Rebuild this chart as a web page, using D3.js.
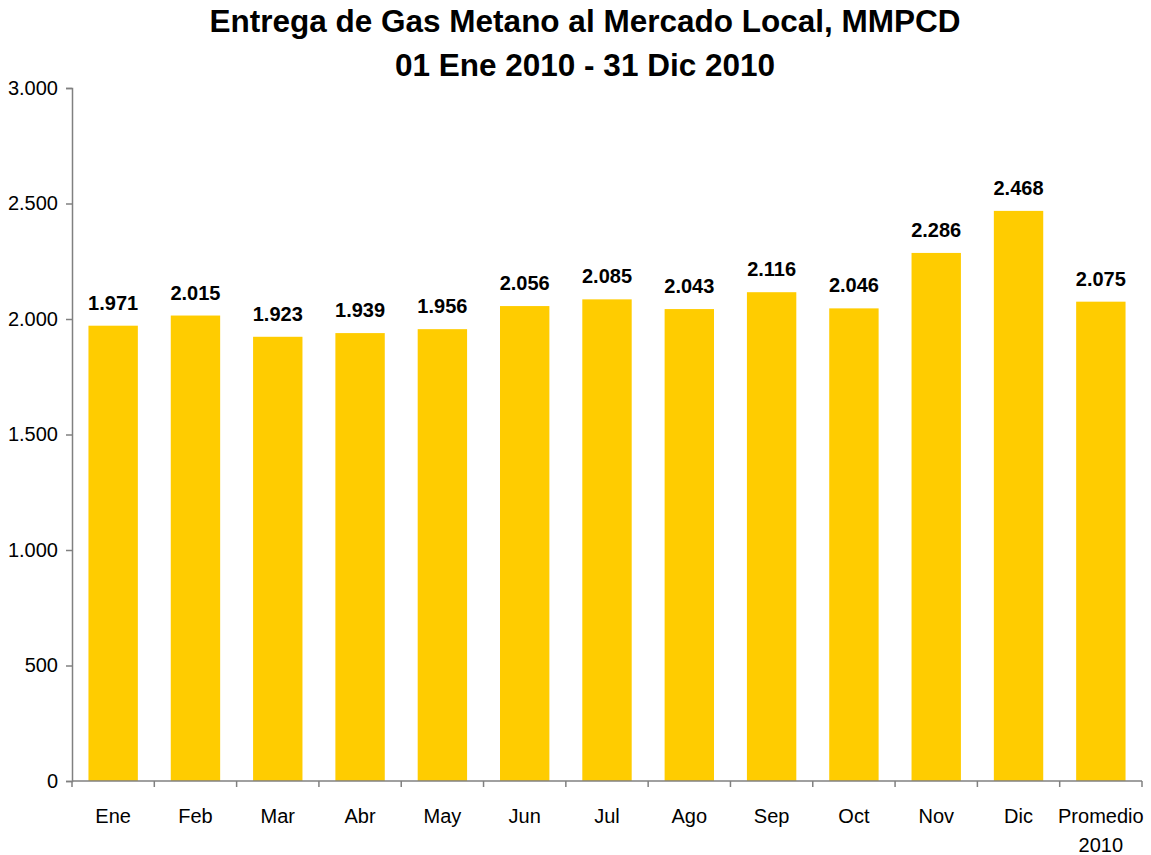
<!DOCTYPE html>
<html lang="es">
<head>
  <meta charset="utf-8">
  <title>Entrega de Gas Metano al Mercado Local</title>
  <script src="https://d3js.org/d3.v7.min.js"></script>
  <style>
    body { margin: 0; background: #fff; }
    svg text { font-family: "Liberation Sans", Arial, sans-serif; fill: #000; }
  </style>
</head>
<body>
<script>
// data
var meses = ['Ene', 'Feb', 'Mar', 'Abr', 'May', 'Jun', 'Jul', 'Ago', 'Sep', 'Oct', 'Nov', 'Dic', 'Promedio\n2010'];
var entrega = [1971, 2015, 1923, 1939, 1956, 2056, 2085, 2043, 2116, 2046, 2286, 2468, 2075];
var yTicks = [0, 500, 1000, 1500, 2000, 2500, 3000];
var titulo = ['Entrega de Gas Metano al Mercado Local, MMPCD', '01 Ene 2010 - 31 Dic 2010'];

var w = 1151, h = 855;
// note: "top" is taken by window.top, so plot edges get a prefix
var plotLeft = 72, plotRight = 1142, plotTop = 88, plotBottom = 781;

// thousands with a dot, like the original
var fmt = function(v) { return d3.format(',')(v).replace(/,/g, '.'); };

var svg = d3.select('body').append('svg')
  .attr('width', w)
  .attr('height', h);

var x = d3.scaleBand()
  .domain(meses)
  .range([plotLeft, plotRight])
  .paddingInner(0.4)
  .paddingOuter(0.2);

var y = d3.scaleLinear()
  .domain([0, 3000])
  .range([plotBottom, plotTop]);

// title
svg.append('text')
  .attr('text-anchor', 'middle')
  .style('font-size', '31.5px')
  .style('font-weight', 'bold')
  .selectAll('tspan')
  .data(titulo)
  .enter()
  .append('tspan')
  .attr('x', 585)
  .attr('y', function(d, i) { return 32 + i * 44; })
  .text(function(d) { return d; });

// bars
svg.selectAll('rect.bar')
  .data(entrega)
  .enter()
  .append('rect')
  .attr('class', 'bar')
  .attr('x', function(d, i) { return x(meses[i]); })
  .attr('y', function(d) { return y(d); })
  .attr('width', x.bandwidth())
  .attr('height', function(d) { return y(0) - y(d); })
  .attr('fill', '#ffcc00');

// value labels
svg.selectAll('text.val')
  .data(entrega)
  .enter()
  .append('text')
  .attr('class', 'val')
  .attr('text-anchor', 'middle')
  .attr('x', function(d, i) { return x(meses[i]) + x.bandwidth() / 2; })
  .attr('y', function(d) { return y(d) - 16; })
  .style('font-size', '20px')
  .style('font-weight', 'bold')
  .text(function(d) { return fmt(d); });

// y axis
var yAxis = svg.append('g')
  .attr('transform', 'translate(' + plotLeft + ',0)')
  .call(d3.axisLeft(y).tickValues(yTicks).tickFormat(fmt).tickSize(6).tickPadding(8));

// x axis, ticks on the band edges
var edges = meses.map(function(m) { return x(m) - x.step() * x.paddingOuter(); });
edges.push(plotRight);

var xAxis = svg.append('g')
  .attr('transform', 'translate(0,' + plotBottom + ')');

xAxis.append('line')
  .attr('x1', plotLeft).attr('x2', plotRight)
  .attr('y1', 0).attr('y2', 0);

xAxis.selectAll('line.tk')
  .data(edges)
  .enter()
  .append('line')
  .attr('class', 'tk')
  .attr('x1', function(d) { return d; })
  .attr('x2', function(d) { return d; })
  .attr('y1', 0)
  .attr('y2', 6);

xAxis.selectAll('text.cat')
  .data(meses)
  .enter()
  .append('text')
  .attr('class', 'cat')
  .attr('text-anchor', 'middle')
  .style('font-size', '20px')
  .each(function(d) {
    var t = d3.select(this);
    d.split('\n').forEach(function(s, i) {
      t.append('tspan')
        .attr('x', x(d) + x.bandwidth() / 2)
        .attr('y', 42 + i * 29)
        .text(s);
    });
  });

// axis styling: grey lines, plain black labels
svg.selectAll('g line, g path')
  .attr('stroke', '#808080')
  .attr('stroke-width', 1.5)
  .attr('fill', 'none');
yAxis.selectAll('text')
  .style('font-size', '20px')
  .attr('fill', '#000');
</script>
</body>
</html>
